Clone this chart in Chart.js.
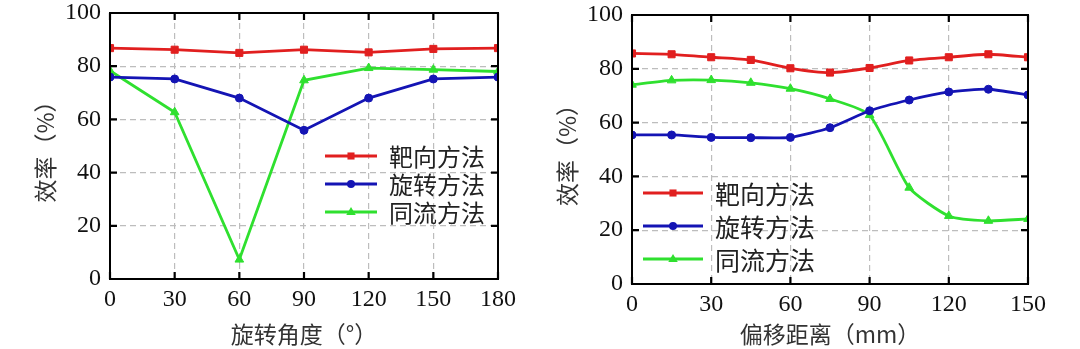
<!DOCTYPE html>
<html>
<head>
<meta charset="utf-8">
<script src="https://cdn.jsdelivr.net/npm/chart.js@4.4.0/dist/chart.umd.min.js"></script>
<style>
  body { margin: 0; background: #fff; }
  .wrap { display: flex; width: 1080px; height: 349px; }
  .box { position: relative; width: 540px; height: 349px; }
</style>
</head>
<body>
<div class="wrap">
  <div class="box"><canvas id="angleChart" width="540" height="349"></canvas></div>
  <div class="box"><canvas id="offsetChart" width="540" height="349"></canvas></div>
</div>
<script>
// series names
const methodNames = ["靶向方法", "旋转方法", "同流方法"];

// left: rotation angle (deg)
const angles = [0, 30, 60, 90, 120, 150, 180];
const angleTarget = [86.8, 86.2, 85.0, 86.2, 85.2, 86.5, 86.8];
const angleRotate = [75.9, 75.2, 68.0, 55.9, 68.0, 75.2, 75.9];
const angleCoflow = [78.3, 62.7, 7.3, 74.7, 79.3, 78.7, 78.0];

// right: offset distance (mm)
const offsets = [0, 15, 30, 45, 60, 75, 90, 105, 120, 135, 150];
const offsetTarget = [85.7, 85.4, 84.3, 83.3, 80.2, 78.6, 80.3, 83.1, 84.3, 85.4, 84.3];
const offsetRotate = [55.4, 55.4, 54.5, 54.4, 54.5, 58.1, 64.4, 68.4, 71.4, 72.4, 70.3];
const offsetCoflow = [74.1, 75.7, 75.8, 74.8, 72.6, 68.8, 62.8, 35.8, 25.3, 23.5, 24.2];

const colors = ["#e11f1f", "#1414b4", "#2fe02f"];
const markers = ["rect", "circle", "triangle"];
const markerSize = [5, 4, 5];

const numFont = { family: "'Liberation Serif', 'Times New Roman', serif", size: 24 };
const cjkFont = { family: "'Noto Sans CJK SC', 'Liberation Serif', sans-serif", size: 23 };

function toPoints(xs, ys) {
  return xs.map((x, i) => ({ x: x, y: ys[i] }));
}

function makeDatasets(xs, lists, tension) {
  return lists.map((ys, i) => ({
    label: methodNames[i],
    data: toPoints(xs, ys),
    borderColor: colors[i],
    backgroundColor: colors[i],
    borderWidth: 2.8,
    pointStyle: markers[i],
    pointRadius: markerSize[i],
    pointBorderWidth: 1,
    tension: tension
  }));
}

function drawMarker(ctx, style, x, y, r) {
  ctx.beginPath();
  if (style === "rect") {
    let s = r * Math.SQRT1_2;
    ctx.rect(x - s, y - s, 2 * s, 2 * s);
  } else if (style === "circle") {
    ctx.arc(x, y, r, 0, Math.PI * 2);
  } else {
    ctx.moveTo(x, y - r);
    ctx.lineTo(x + r * 0.95, y + r * 0.6);
    ctx.lineTo(x - r * 0.95, y + r * 0.6);
    ctx.closePath();
  }
  ctx.fill();
}

// frame, inward ticks and the legend drawn inside the plot
const frameAndLegend = {
  id: "frameAndLegend",
  afterDraw(chart, args, opts) {
    const ctx = chart.ctx;
    const a = chart.chartArea;
    const xs = chart.scales.x, ys = chart.scales.y;
    ctx.save();
    ctx.strokeStyle = "#000";
    ctx.lineWidth = 2;
    ctx.strokeRect(a.left, a.top, a.right - a.left, a.bottom - a.top);
    ctx.lineWidth = 2.2;
    ctx.beginPath();
    xs.ticks.forEach(t => {
      const px = xs.getPixelForValue(t.value);
      ctx.moveTo(px, a.bottom); ctx.lineTo(px, a.bottom - 7);
      ctx.moveTo(px, a.top); ctx.lineTo(px, a.top + 7);
    });
    ys.ticks.forEach(t => {
      const py = ys.getPixelForValue(t.value);
      ctx.moveTo(a.left, py); ctx.lineTo(a.left + 7, py);
      ctx.moveTo(a.right, py); ctx.lineTo(a.right - 7, py);
    });
    ctx.stroke();

    // legend
    ctx.font = opts.fontSize + "px 'Noto Sans CJK SC', sans-serif";
    ctx.textBaseline = "middle";
    ctx.textAlign = "left";
    chart.data.datasets.forEach((ds, i) => {
      const y = a.top + opts.top + i * opts.gap;
      const x0 = a.left + opts.left;
      ctx.strokeStyle = ds.borderColor;
      ctx.fillStyle = ds.borderColor;
      ctx.lineWidth = 2.8;
      ctx.beginPath();
      ctx.moveTo(x0, y); ctx.lineTo(x0 + opts.len, y);
      ctx.stroke();
      drawMarker(ctx, ds.pointStyle, x0 + opts.len / 2, y, ds.pointRadius);
      ctx.fillStyle = "#222";
      ctx.fillText(ds.label, x0 + opts.len + 12, y + 1);
    });
    ctx.restore();
  }
};

function makeOptions(cfg) {
  return {
    responsive: false,
    animation: false,
    layout: { padding: cfg.padding },
    plugins: {
      legend: { display: false },
      tooltip: { enabled: false },
      frameAndLegend: cfg.legend
    },
    scales: {
      x: {
        type: "linear",
        min: 0,
        max: cfg.xMax,
        afterFit: s => { s.height = cfg.xHeight; s.paddingLeft = 0; s.paddingRight = 0; },
        ticks: { stepSize: 30, font: numFont, color: "#111", padding: 6, maxRotation: 0 },
        grid: { color: "#bdbdbd", lineWidth: 1.2, drawTicks: false },
        border: { display: false, dash: [6, 4] },
        title: { display: true, text: cfg.xTitle, font: cjkFont, color: "#333", padding: { top: 0, bottom: 1 } }
      },
      y: {
        min: 0,
        max: 100,
        afterFit: s => { s.width = cfg.yWidth; s.paddingTop = 0; s.paddingBottom = 0; },
        ticks: { stepSize: 20, font: numFont, color: "#111", padding: 9 },
        grid: { color: "#bdbdbd", lineWidth: 1.2, drawTicks: false },
        border: { display: false, dash: [6, 4] },
        title: { display: true, text: "效率（%）", font: cjkFont, color: "#333", padding: { top: 3, bottom: 0 } }
      }
    }
  };
}

new Chart(document.getElementById("angleChart"), {
  type: "line",
  data: { datasets: makeDatasets(angles, [angleTarget, angleRotate, angleCoflow], 0) },
  options: makeOptions({
    xMax: 180,
    padding: { left: 28, right: 42, top: 13, bottom: 0 },
    xHeight: 70,
    yWidth: 82,
    xTitle: "旋转角度（°）",
    legend: { left: 215, top: 143, gap: 28, len: 52, fontSize: 24 }
  }),
  plugins: [frameAndLegend]
});

new Chart(document.getElementById("offsetChart"), {
  type: "line",
  data: { datasets: makeDatasets(offsets, [offsetTarget, offsetRotate, offsetCoflow], 0.2) },
  options: makeOptions({
    xMax: 150,
    padding: { left: 10, right: 52, top: 15, bottom: 0 },
    xHeight: 65,
    yWidth: 82,
    xTitle: "偏移距离（mm）",
    legend: { left: 11, top: 178, gap: 33, len: 60, fontSize: 25 }
  }),
  plugins: [frameAndLegend]
});
</script>
</body>
</html>
